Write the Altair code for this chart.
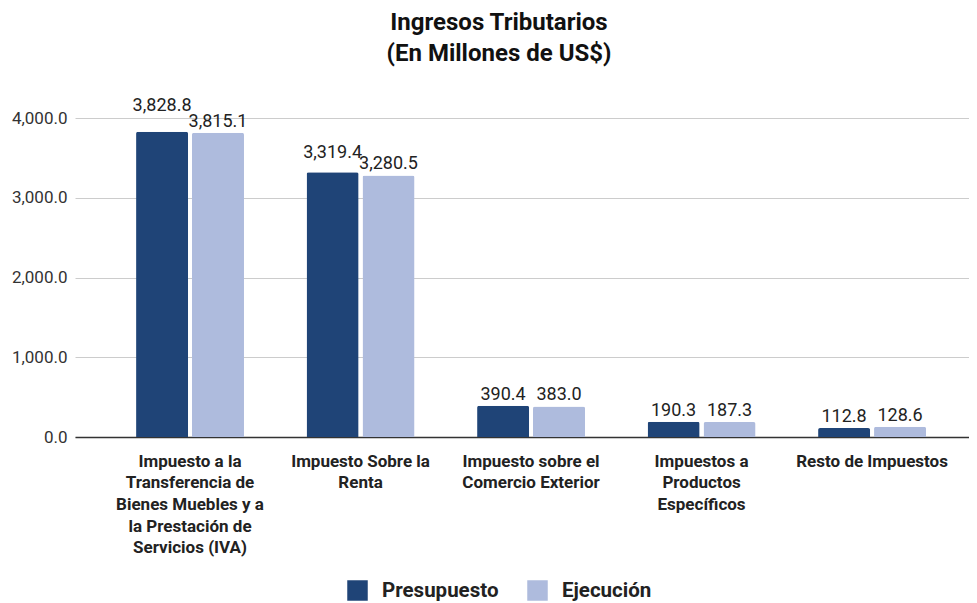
import altair as alt
import pandas as pd

categories = [
    "Impuesto a la|Transferencia de|Bienes Muebles y a|la Prestación de|Servicios (IVA)",
    "Impuesto Sobre la|Renta",
    "Impuesto sobre el|Comercio Exterior",
    "Impuestos a|Productos|Específicos",
    "Resto de Impuestos",
]
series = ["Presupuesto", "Ejecución"]
presupuesto = [3828.8, 3319.4, 390.4, 190.3, 112.8]
ejecucion = [3815.1, 3280.5, 383.0, 187.3, 128.6]
colors = ["#1f4477", "#aebbdd"]

rows = []
for c, p, e in zip(categories, presupuesto, ejecucion):
    rows.append({"cat": c, "serie": series[0], "valor": p})
    rows.append({"cat": c, "serie": series[1], "valor": e})
df = pd.DataFrame(rows)

FONT = "Roboto"

x = alt.X(
    "cat:N",
    sort=categories,
    title=None,
    scale=alt.Scale(paddingInner=0.367, paddingOuter=0.305, align=0.587),
    axis=alt.Axis(
        labelExpr="split(datum.label, '|')",
        labelAngle=0,
        labelFont=FONT,
        labelFontSize=17,
        labelFontWeight="bold",
        labelColor="#222222",
        labelLineHeight=21.7,
        labelPadding=16,
        labelLimit=300,
        ticks=False,
        grid=False,
        domainColor="#333333",
        domainWidth=1.5,
    ),
)
xo = alt.XOffset("serie:N", sort=series, scale=alt.Scale(paddingInner=0.07))
yscale = alt.Scale(domain=[0, 4000], nice=False)
y = alt.Y(
    "valor:Q",
    title=None,
    scale=yscale,
    axis=alt.Axis(
        values=[0, 1000, 2000, 3000, 4000],
        format=",.1f",
        labelFont=FONT,
        labelFontSize=17,
        labelColor="#333333",
        labelPadding=8,
        domain=False,
        ticks=False,
        gridColor="#cccccc",
    ),
)

bars = alt.Chart(df).mark_bar(cornerRadiusTopLeft=2, cornerRadiusTopRight=2).encode(
    x=x,
    xOffset=xo,
    y=y,
    color=alt.Color(
        "serie:N",
        sort=series,
        scale=alt.Scale(domain=series, range=colors),
        legend=alt.Legend(
            title=None,
            orient="none",
            direction="horizontal",
            legendX=272,
            legendY=462,
            symbolType="square",
            symbolSize=420,
            symbolStrokeWidth=0,
            labelFont=FONT,
            labelFontSize=20.5,
            labelFontWeight="bold",
            labelColor="#222222",
            columnPadding=28,
            labelOffset=14,
        ),
    ),
)

text_style = dict(baseline="middle", font=FONT, fontSize=18, color="#222222")
text_enc = dict(
    x=x,
    xOffset=xo,
    y=alt.Y("valor:Q", scale=yscale),
    text=alt.Text("valor:Q", format=",.1f"),
)

# Labels lifted to avoid colliding with the neighbour label (as in the source)
labels_normal = (
    alt.Chart(df)
    .transform_filter("datum.valor != 3828.8 && datum.valor != 3319.4")
    .mark_text(dy=-11, **text_style)
    .encode(**text_enc)
)
labels_lift1 = (
    alt.Chart(df)
    .transform_filter("datum.valor == 3828.8")
    .mark_text(dy=-26, **text_style)
    .encode(**text_enc)
)
labels_lift2 = (
    alt.Chart(df)
    .transform_filter("datum.valor == 3319.4")
    .mark_text(dy=-19, **text_style)
    .encode(**text_enc)
)

chart = (
    alt.layer(bars, labels_normal, labels_lift1, labels_lift2)
    .properties(
        width=894,
        height=319,
        autosize=alt.AutoSizeParams(type="none"),
        padding={"left": 67, "top": 110, "right": 0, "bottom": 166},
        title=alt.Title(
            text=["Ingresos Tributarios", "(En Millones de US$)"],
            font=FONT,
            fontSize=24,
            fontWeight="bold",
            color="#111111",
            anchor="middle",
            frame="group",
            dx=-23,
            offset=31,
            lineHeight=31,
        ),
    )
    .configure_view(stroke=None)
)

chart.save("out.html", embed_options={"renderer": "svg", "actions": False})
